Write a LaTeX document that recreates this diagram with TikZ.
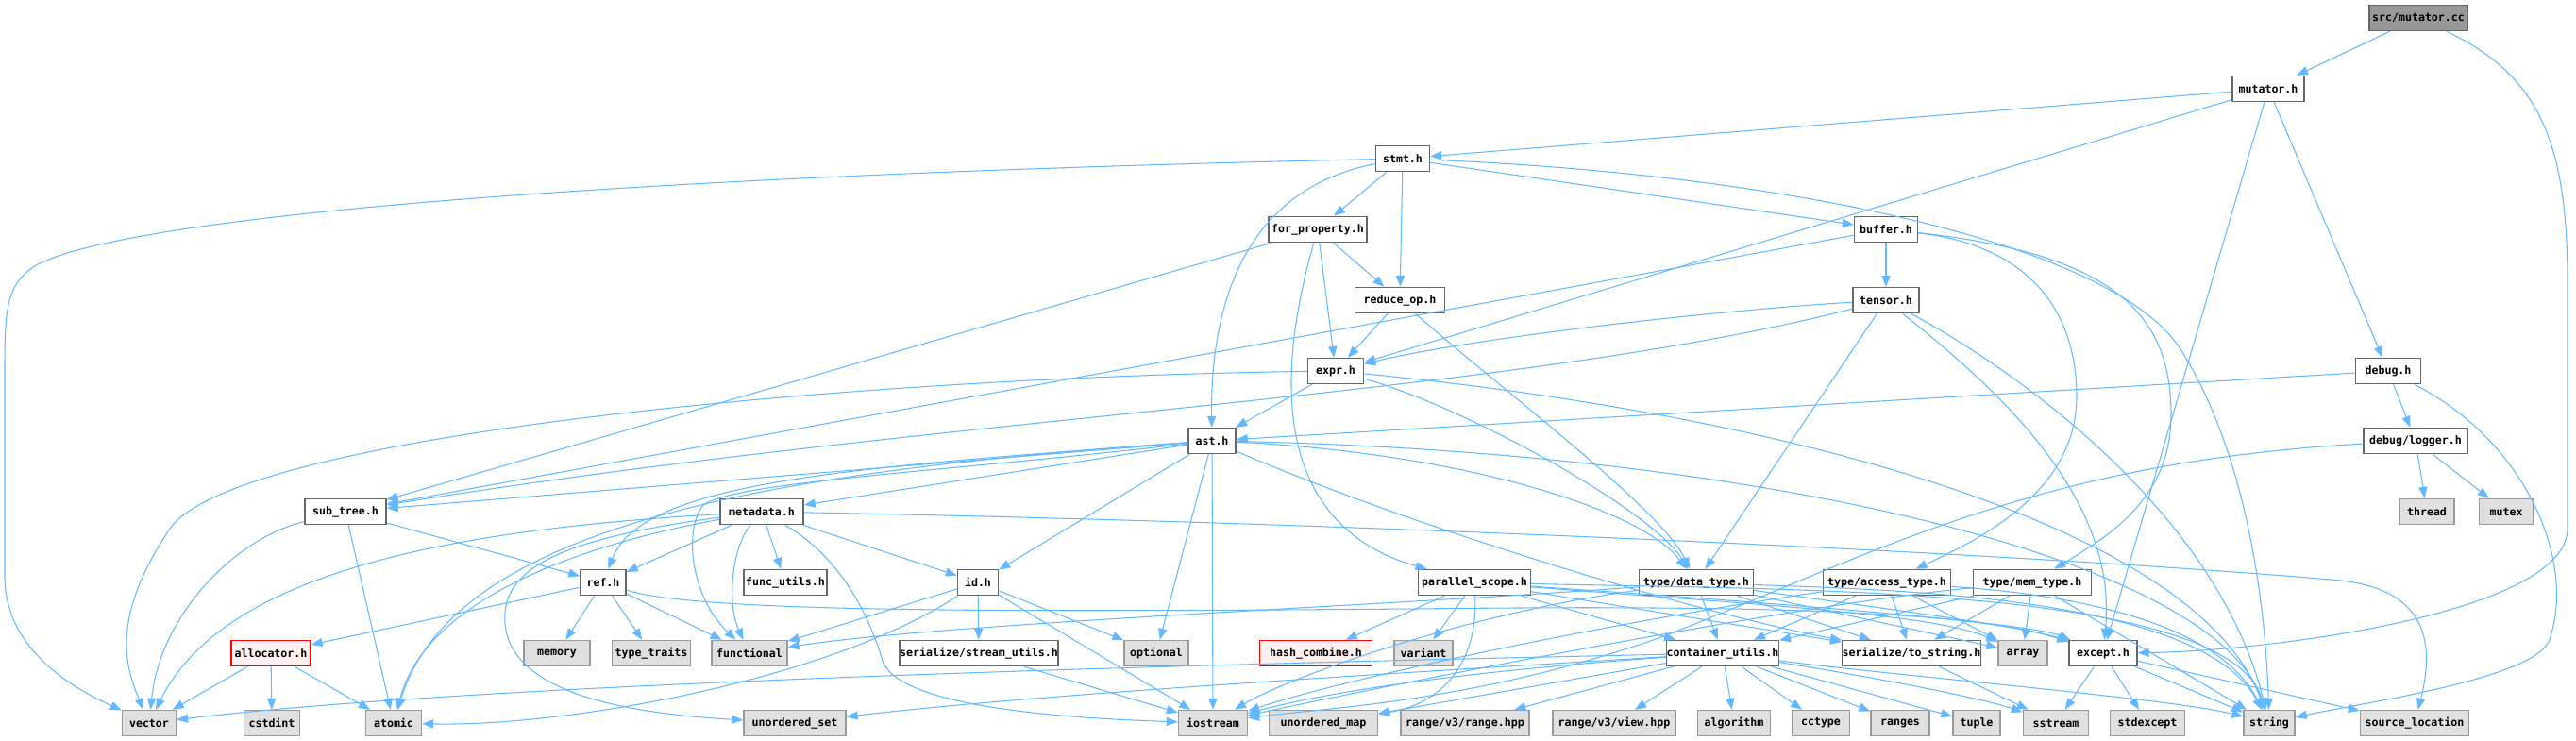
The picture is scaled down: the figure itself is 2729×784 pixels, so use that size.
\documentclass[tikz,border=0pt]{standalone}
\usepackage{fontspec}
\setmonofont{DejaVu Sans Mono}
\usetikzlibrary{arrows.meta}
\definecolor{edgec}{HTML}{63B8FF}
\definecolor{bord}{HTML}{666666}
\definecolor{sysfill}{HTML}{E0E0E0}
\definecolor{sysbord}{HTML}{999999}
\definecolor{rootfill}{HTML}{999999}
\definecolor{redfill}{HTML}{FFF0F0}
\newcommand\nodefont{\ttfamily\bfseries\fontsize{3.3pt}{4pt}\selectfont}
\tikzset{
  box/.style={draw=bord, fill=white, line width=0.4pt, minimum height=0.27cm, inner sep=0pt, font=\nodefont},
  sys/.style={box, draw=sysbord, fill=sysfill},
  redbox/.style={box, draw=red, fill=redfill},
  rootbox/.style={box, draw=bord, fill=rootfill},
  e/.style={draw=edgec, line width=0.3pt, -{Triangle[length=3.4pt,width=2.6pt]}}
}
\begin{document}
\begin{tikzpicture}[x=0.01cm,y=-0.01cm]
\useasboundingbox (0,0) rectangle (2729,784);
% row 0-6
\node[rootbox, minimum width=1.04cm] (root) at (2562,19) {src/mutator.cc};
\node[box, minimum width=0.76cm] (mutator) at (2403,94) {mutator.h};
\node[box, minimum width=0.57cm] (stmt) at (1486,168) {stmt.h};
\node[box, minimum width=1.04cm] (forp) at (1396,243) {for\_property.h};
\node[box, minimum width=0.67cm] (buffer) at (1998,243) {buffer.h};
\node[box, minimum width=0.95cm] (reduce) at (1483,318) {reduce\_op.h};
\node[box, minimum width=0.70cm] (tensor) at (1998,318) {tensor.h};
\node[box, minimum width=0.59cm] (expr) at (1415,393) {expr.h};
\node[box, minimum width=0.69cm] (debug) at (2530,393) {debug.h};
\node[box, minimum width=0.50cm] (ast) at (1284,467) {ast.h};
\node[box, minimum width=1.10cm] (logger) at (2559,467) {debug/logger.h};
% row 7
\node[box, minimum width=0.86cm] (subtree) at (366,542) {sub\_tree.h};
\node[box, minimum width=0.88cm] (metadata) at (807,542) {metadata.h};
\node[sys, minimum width=0.58cm] (thread) at (2571,542) {thread};
\node[sys, minimum width=0.57cm] (mutex) at (2655,542) {mutex};
% row 8
\node[box, minimum width=0.48cm] (ref) at (639,617) {ref.h};
\node[box, minimum width=0.88cm] (funcutils) at (832,617) {func\_utils.h};
\node[box, minimum width=0.43cm] (id) at (1036,617) {id.h};
\node[box, minimum width=1.19cm] (par) at (1562,617) {parallel\_scope.h};
\node[box, minimum width=1.21cm] (datatype) at (1797,617) {type/data\_type.h};
\node[box, minimum width=1.35cm] (access) at (1999,617) {type/access\_type.h};
\node[box, minimum width=1.25cm] (mem) at (2153,617) {type/mem\_type.h};
% row 9
\node[redbox, minimum width=0.84cm] (allocator) at (287,692) {allocator.h};
\node[sys, minimum width=0.70cm] (memory) at (590,692) {memory};
\node[sys, minimum width=0.83cm] (typetraits) at (690,692) {type\_traits};
\node[sys, minimum width=0.80cm] (functional) at (794,692) {functional};
\node[box, minimum width=1.57cm] (streamutils) at (1037,692) {serialize/stream\_utils.h};
\node[sys, minimum width=0.68cm] (optional) at (1225,692) {optional};
\node[redbox, minimum width=1.19cm] (hash) at (1394,692) {hash\_combine.h};
\node[sys, minimum width=0.62cm] (variant) at (1508,692) {variant};
\node[box, minimum width=1.18cm] (container) at (1825,692) {container\_utils.h};
\node[box, minimum width=1.36cm] (tostring) at (2025,692) {serialize/to\_string.h};
\node[sys, minimum width=0.52cm] (array) at (2143,692) {array};
\node[box, minimum width=0.72cm] (except) at (2228,692) {except.h};
% row 10
\node[sys, minimum width=0.57cm] (vector) at (158,766) {vector};
\node[sys, minimum width=0.59cm] (cstdint) at (288,766) {cstdint};
\node[sys, minimum width=0.59cm] (atomic) at (417,766) {atomic};
\node[sys, minimum width=1.08cm] (uset) at (842,766) {unordered\_set};
\node[sys, minimum width=0.73cm] (iostream) at (1285,766) {iostream};
\node[sys, minimum width=1.15cm] (umap) at (1402,766) {unordered\_map};
\node[sys, minimum width=1.36cm] (rangehpp) at (1552,766) {range/v3/range.hpp};
\node[sys, minimum width=1.30cm] (viewhpp) at (1710,766) {range/v3/view.hpp};
\node[sys, minimum width=0.77cm] (algorithm) at (1837,766) {algorithm};
\node[sys, minimum width=0.61cm] (cctype) at (1929,766) {cctype};
\node[sys, minimum width=0.62cm] (ranges) at (2013,766) {ranges};
\node[sys, minimum width=0.50cm] (tuple) at (2094,766) {tuple};
\node[sys, minimum width=0.69cm] (sstream) at (2178,766) {sstream};
\node[sys, minimum width=0.79cm] (stdexcept) at (2275,766) {stdexcept};
\node[sys, minimum width=0.54cm] (string) at (2404,766) {string};
\node[sys, minimum width=1.15cm] (srcloc) at (2558,766) {source\_location};

% edges
\draw[e] (root) -- (mutator);
\draw[e] (root) .. controls (2690,80) and (2720,150) .. (2720,300) -- (2720,560) .. controls (2720,650) and (2400,690) .. (except);
\draw[e] (mutator) -- (stmt);
\draw[e] (mutator) -- (expr);
\draw[e] (mutator) -- (except);
\draw[e] (mutator) -- (debug);
\draw[e] (stmt) .. controls (700,185) and (150,225) .. (40,280) .. controls (5,300) and (5,330) .. (5,400) -- (5,610) .. controls (5,690) and (80,730) .. (vector);
\draw[e] (stmt) .. controls (1320,200) and (1282,320) .. (ast);
\draw[e] (stmt) -- (forp);
\draw[e] (stmt) -- (reduce);
\draw[e] (stmt) -- (buffer);
\draw[e] (stmt) .. controls (1900,185) and (2240,260) .. (2310,370) .. controls (2380,480) and (2400,640) .. (string);
\draw[e] (forp) -- (subtree);
\draw[e] (forp) -- (expr);
\draw[e] (forp) -- (reduce);
\draw[e] (forp) .. controls (1345,420) and (1360,560) .. (par);
\draw[e] (reduce) -- (expr);
\draw[e] (reduce) .. controls (1600,420) and (1760,540) .. (datatype);
\draw[e] (buffer) -- (tensor);
\draw[e] (buffer) -- (subtree);
\draw[e] (buffer) .. controls (2150,260) and (2200,330) .. (2200,420) .. controls (2200,520) and (2100,570) .. (access);
\draw[e] (buffer) .. controls (2250,270) and (2300,340) .. (2300,440) .. controls (2300,530) and (2230,570) .. (mem);
\draw[e] (tensor) .. controls (1800,330) and (1550,360) .. (expr);
\draw[e] (tensor) .. controls (1600,420) and (1000,440) .. (subtree);
\draw[e] (tensor) -- (datatype);
\draw[e] (tensor) .. controls (2100,400) and (2245,520) .. (except);
\draw[e] (tensor) .. controls (2150,400) and (2350,550) .. (string);
\draw[e] (expr) -- (ast);
\draw[e] (expr) .. controls (900,400) and (250,460) .. (180,560) .. controls (120,650) and (130,700) .. (vector);
\draw[e] (expr) .. controls (1550,430) and (1750,540) .. (datatype);
\draw[e] (expr) .. controls (1900,440) and (2330,560) .. (string);
\draw[e] (debug) -- (ast);
\draw[e] (debug) -- (logger);
\draw[e] (debug) .. controls (2680,470) and (2730,600) .. (2700,680) .. controls (2680,720) and (2500,745) .. (string);
\draw[e] (logger) -- (thread);
\draw[e] (logger) -- (mutex);
\draw[e] (logger) .. controls (2150,490) and (1980,590) .. (1760,675) .. controls (1560,745) and (1400,750) .. (iostream);
\draw[e] (ast) -- (subtree);
\draw[e] (ast) -- (metadata);
\draw[e] (ast) .. controls (900,495) and (680,510) .. (ref);
\draw[e] (ast) .. controls (1000,500) and (780,510) .. (745,535) .. controls (725,560) and (730,630) .. (functional);
\draw[e] (ast) .. controls (800,500) and (480,560) .. (atomic);
\draw[e] (ast) -- (id);
\draw[e] (ast) -- (optional);
\draw[e] (ast) -- (iostream);
\draw[e] (ast) .. controls (1550,480) and (1740,540) .. (datatype);
\draw[e] (ast) .. controls (1900,480) and (2350,600) .. (string);
\draw[e] (ast) .. controls (1500,560) and (1800,650) .. (tostring);
\draw[e] (metadata) -- (ref);
\draw[e] (metadata) -- (funcutils);
\draw[e] (metadata) -- (id);
\draw[e] (metadata) .. controls (775,580) and (770,640) .. (functional);
\draw[e] (metadata) .. controls (600,580) and (450,640) .. (atomic);
\draw[e] (metadata) .. controls (500,560) and (240,600) .. (vector);
\draw[e] (metadata) .. controls (600,570) and (530,600) .. (535,660) .. controls (540,730) and (650,755) .. (uset);
\draw[e] (metadata) .. controls (890,590) and (920,650) .. (935,700) .. controls (950,745) and (1100,760) .. (iostream);
\draw[e] (metadata) .. controls (1500,555) and (2200,590) .. (2480,615) .. controls (2570,625) and (2580,680) .. (srcloc);
\draw[e] (ref) -- (allocator);
\draw[e] (ref) -- (memory);
\draw[e] (ref) -- (typetraits);
\draw[e] (ref) -- (functional);
\draw[e] (ref) .. controls (740,650) and (1100,648) .. (1500,645) .. controls (1900,640) and (2100,650) .. (except);
\draw[e] (subtree) .. controls (250,570) and (170,650) .. (vector);
\draw[e] (subtree) -- (atomic);
\draw[e] (subtree) -- (ref);
\draw[e] (allocator) -- (vector);
\draw[e] (allocator) -- (cstdint);
\draw[e] (allocator) -- (atomic);
\draw[e] (id) .. controls (880,720) and (600,770) .. (atomic);
\draw[e] (id) -- (functional);
\draw[e] (id) -- (streamutils);
\draw[e] (id) -- (optional);
\draw[e] (id) -- (iostream);
\draw[e] (streamutils) -- (iostream);
\draw[e] (par) -- (hash);
\draw[e] (par) -- (variant);
\draw[e] (par) .. controls (1566,700) and (1530,745) .. (umap);
\draw[e] (par) -- (container);
\draw[e] (par) -- (tostring);
\draw[e] (par) .. controls (1900,640) and (2150,660) .. (except);
\draw[e] (par) .. controls (1900,625) and (2360,620) .. (string);
\draw[e] (par) .. controls (1850,640) and (2050,650) .. (array);
\draw[e] (datatype) -- (container);
\draw[e] (datatype) -- (tostring);
\draw[e] (datatype) .. controls (2000,645) and (2150,665) .. (except);
\draw[e] (datatype) -- (array);
\draw[e] (datatype) .. controls (2000,625) and (2330,630) .. (string);
\draw[e] (datatype) .. controls (1500,640) and (1000,660) .. (functional);
\draw[e] (datatype) .. controls (1550,650) and (1360,720) .. (iostream);
\draw[e] (access) -- (container);
\draw[e] (access) -- (tostring);
\draw[e] (access) -- (array);
\draw[e] (access) .. controls (2200,630) and (2350,660) .. (string);
\draw[e] (access) .. controls (1700,660) and (1420,720) .. (iostream);
\draw[e] (mem) -- (container);
\draw[e] (mem) -- (tostring);
\draw[e] (mem) -- (array);
\draw[e] (mem) -- (string);
\draw[e] (mem) .. controls (1900,640) and (1450,730) .. (iostream);
\draw[e] (container) .. controls (1200,705) and (500,725) .. (vector);
\draw[e] (container) .. controls (1500,712) and (1100,735) .. (uset);
\draw[e] (container) .. controls (1500,715) and (1380,740) .. (iostream);
\draw[e] (container) -- (umap);
\draw[e] (container) -- (rangehpp);
\draw[e] (container) -- (viewhpp);
\draw[e] (container) -- (algorithm);
\draw[e] (container) -- (cctype);
\draw[e] (container) -- (ranges);
\draw[e] (container) -- (tuple);
\draw[e] (container) .. controls (2000,720) and (2100,740) .. (sstream);
\draw[e] (container) .. controls (2000,715) and (2300,740) .. (string);
\draw[e] (tostring) -- (sstream);
\draw[e] (except) -- (sstream);
\draw[e] (except) -- (stdexcept);
\draw[e] (except) -- (string);
\draw[e] (except) -- (srcloc);
\end{tikzpicture}
\end{document}
